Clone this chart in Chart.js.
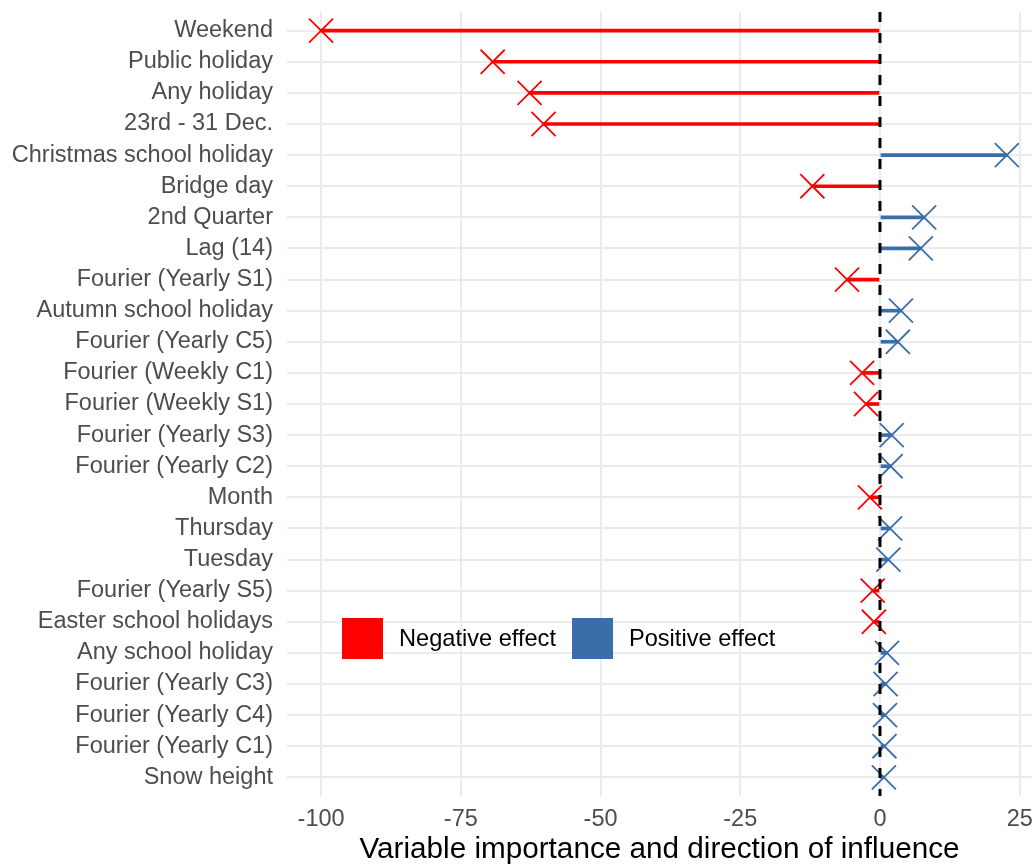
<!DOCTYPE html>
<html>
<head>
<meta charset="utf-8">
<script src="https://cdn.jsdelivr.net/npm/chart.js@4.4.1/dist/chart.umd.min.js"></script>
<style>
    html, body {
        margin: 0;
        padding: 0;
        background: #ffffff;
    }
    .wrapper {
        position: relative;
        width: 1032px;
        height: 865px;
    }
    .legend {
        position: absolute;
        left: 342px;
        top: 618px;
        display: flex;
        align-items: center;
        font-family: "Liberation Sans", Arial, sans-serif;
        font-size: 23.6px;
        color: #000000;
    }
    .legend .item {
        display: flex;
        align-items: center;
        margin-right: 16px;
    }
    .legend .box {
        width: 41px;
        height: 41px;
        margin-right: 16px;
    }
</style>
</head>
<body>
<div class="wrapper">
    <canvas id="importance"></canvas>
    <div class="legend"></div>
</div>
<script>
const labels = [
    "Weekend", "Public holiday", "Any holiday", "23rd - 31 Dec.", "Christmas school holiday",
    "Bridge day", "2nd Quarter", "Lag (14)", "Fourier (Yearly S1)", "Autumn school holiday",
    "Fourier (Yearly C5)", "Fourier (Weekly C1)", "Fourier (Weekly S1)", "Fourier (Yearly S3)",
    "Fourier (Yearly C2)", "Month", "Thursday", "Tuesday", "Fourier (Yearly S5)",
    "Easter school holidays", "Any school holiday", "Fourier (Yearly C3)", "Fourier (Yearly C4)",
    "Fourier (Yearly C1)", "Snow height"
];
const values = [
    -100, -69.3, -62.7, -60.2, 22.7,
    -12.1, 7.9, 7.3, -5.9, 3.75,
    3.2, -3.2, -2.5, 2.1,
    1.9, -1.8, 1.8, 1.5, -1.3,
    -1.1, 1.25, 1.0, 0.9,
    0.8, 0.7
];
const xTicks = [-100, -75, -50, -25, 0, 25];
const legendLabels = ["Negative effect", "Positive effect"];

const COLORS = {
    neg: "#FF0000",
    pos: "#3A6EA8"
};
const legendColors = [COLORS.neg, COLORS.pos];

const FONT = "'Liberation Sans', Arial, sans-serif";

const colorOf = (v) => v < 0 ? COLORS.neg : COLORS.pos;

// legend drawn as html inside the plot
const legendEle = document.querySelector(".legend");
for (let i = 0; i < legendLabels.length; i++) {
    const item = document.createElement("div");
    item.className = "item";
    const box = document.createElement("div");
    box.className = "box";
    box.style.background = legendColors[i];
    const txt = document.createElement("span");
    txt.textContent = legendLabels[i];
    item.appendChild(box);
    item.appendChild(txt);
    legendEle.appendChild(item);
}

const zeroLine = {
    id: "zeroLine",
    afterDatasetsDraw(chart) {
        const { ctx, chartArea, scales } = chart;
        const x0 = scales.x.getPixelForValue(0);
        ctx.save();
        ctx.strokeStyle = "#000000";
        ctx.lineWidth = 3;
        ctx.setLineDash([10, 11]);
        ctx.beginPath();
        ctx.moveTo(x0, chartArea.top);
        ctx.lineTo(x0, chartArea.bottom);
        ctx.stroke();
        ctx.restore();
    }
};

// no extra room for the outer tick labels
const noEdgePadding = (scale) => {
    scale.paddingLeft = 0;
    scale.paddingRight = 0;
    scale.paddingTop = 0;
    scale.paddingBottom = 0;
};

new Chart(document.getElementById("importance"), {
    type: "bar",
    data: {
        datasets: [{
            type: "bar",
            data: values.map((v, i) => ({ y: i, x: [0, v] })),
            backgroundColor: values.map(colorOf),
            borderWidth: 0,
            barThickness: 3,
            order: 2
        }, {
            type: "scatter",
            data: values.map((v, i) => ({ y: i, x: v })),
            pointStyle: "crossRot",
            pointRadius: 17,
            pointHoverRadius: 17,
            borderColor: values.map(colorOf),
            backgroundColor: values.map(colorOf),
            borderWidth: 1.8,
            order: 1
        }]
    },
    options: {
        indexAxis: "y",
        responsive: true,
        maintainAspectRatio: false,
        animation: false,
        devicePixelRatio: 1,
        layout: {
            autoPadding: false,
            padding: { top: 12, right: 0, left: 0, bottom: 0 }
        },
        plugins: {
            legend: { display: false },
            tooltip: { enabled: false }
        },
        scales: {
            x: {
                type: "linear",
                position: "bottom",
                min: -106.1,
                max: 27.2,
                offset: false,
                afterBuildTicks: (scale) => {
                    scale.ticks = xTicks.map(v => ({ value: v }));
                },
                afterFit: (scale) => {
                    scale.height = 69;
                    noEdgePadding(scale);
                },
                grid: {
                    color: "#EBEBEB",
                    lineWidth: 2,
                    drawTicks: false,
                    offset: false
                },
                border: { display: false },
                ticks: {
                    autoSkip: false,
                    color: "#4D4D4D",
                    font: { family: FONT, size: 23.5 },
                    padding: 9,
                    maxRotation: 0
                },
                title: {
                    display: true,
                    text: "Variable importance and direction of influence",
                    color: "#000000",
                    font: { family: FONT, size: 29.7 },
                    padding: { top: 0, bottom: -3 }
                }
            },
            y: {
                type: "linear",
                reverse: true,
                offset: false,
                min: -0.6,
                max: labels.length - 0.4,
                afterBuildTicks: (scale) => {
                    scale.ticks = labels.map((_, i) => ({ value: i }));
                },
                afterFit: (scale) => {
                    scale.width = 287;
                    noEdgePadding(scale);
                },
                grid: {
                    color: "#EBEBEB",
                    lineWidth: 2,
                    drawTicks: false,
                    offset: false
                },
                border: { display: false },
                ticks: {
                    autoSkip: false,
                    color: "#4D4D4D",
                    font: { family: FONT, size: 23.5 },
                    padding: 14,
                    callback: (v) => labels[v]
                }
            }
        }
    },
    plugins: [zeroLine]
});
</script>
</body>
</html>
